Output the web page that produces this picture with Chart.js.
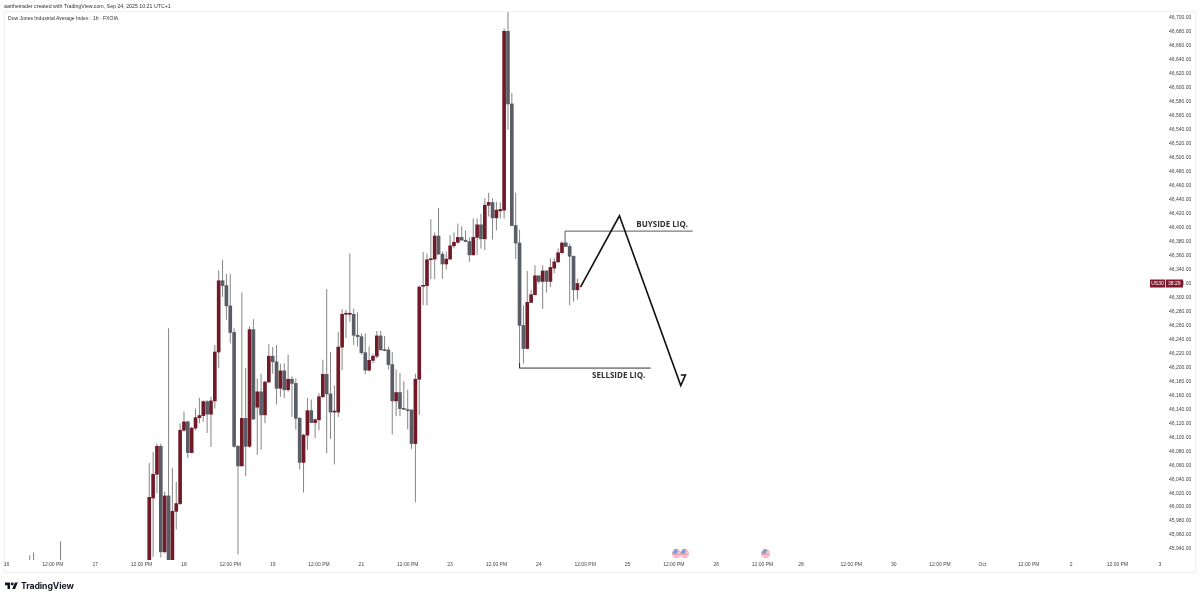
<!DOCTYPE html>
<html>
<head>
<meta charset="utf-8">
<title>Dow Jones Industrial Average Index</title>
<script src="https://cdn.jsdelivr.net/npm/chart.js@4"></script>
<style>
  html, body { margin: 0; padding: 0; background: #fff; }
  #wrap { position: relative; width: 1200px; height: 598px; overflow: hidden; font-family: "Liberation Sans", sans-serif; }
  #chart { position: absolute; left: 0; top: 0; }
  #frame { position: absolute; left: 4px; top: 11px; width: 1190px; height: 560px; border: 1px solid #f1f1f1; }
  .small { position: absolute; line-height: 8px; color: #333; white-space: nowrap; }
  #author { left: 4px; top: 2px; font-size: 5.25px; }
  #symbol { left: 8px; top: 14px; font-size: 5.05px; }
  #logo { position: absolute; left: 5px; top: 580px; height: 11px; display: flex; align-items: center; gap: 3px; }
  #logo span { font-family: Inter, sans-serif; font-weight: 700; font-size: 8.7px; letter-spacing: -0.1px; color: #131722; }
</style>
</head>
<body>
<div id="wrap">
  <div id="frame"></div>
  <canvas id="chart" width="1200" height="598"></canvas>
  <div id="author" class="small">aarthetrader created with TradingView.com, Sep 24, 2025 10:21 UTC+1</div>
  <div id="symbol" class="small">Dow Jones Industrial Average Index · 1h · FXOIA</div>
  <div id="logo">
    <svg width="13" height="9" viewBox="0 0 36 24"><path fill="#131722" d="M14 22H7V11H0V4h14v18zM28 22h-8l7.5-18h8L28 22z"/><circle fill="#131722" cx="20" cy="8" r="4"/></svg>
    <span>TradingView</span>
  </div>
</div>
<script>
const hours = [6, 7, 14,
  37, 38, 39, 40, 41, 42, 43, 44, 45, 46, 47, 48, 49, 50, 51, 52, 53, 54, 55, 56,
  57, 58, 59, 60, 61, 62, 63, 64, 65, 66, 67, 68, 69, 70, 71, 72, 73, 74, 75, 76,
  77, 78, 79, 80, 81, 82, 83, 84, 85, 86, 87, 88, 89, 90, 91, 92, 93, 94, 95, 96,
  97, 98, 99, 100, 101, 102, 103, 104, 105, 106, 107, 108, 109, 110, 111, 112, 113, 114, 115, 116,
  117, 118, 119, 120, 121, 122, 123, 124, 125, 126, 127, 128, 129, 130, 131, 132, 133, 134, 135, 136,
  137, 138, 139, 140, 141, 142, 143, 144, 145, 146, 147, 148];

const opens = [45905, 45900, 45910,
  45915, 46013, 46047, 46087, 45936, 46016, 45915, 45994, 46005, 46110, 46122, 46078, 46113, 46128, 46131, 46151,
  46133, 46152, 46222, 46324, 46317, 46288, 46250, 46087, 46059, 46127, 46087, 46254, 46143, 46165, 46132, 46179,
  46216, 46208, 46170, 46195, 46168, 46183, 46177, 46127, 46064, 46103, 46138, 46121, 46125, 46158, 46190, 46162,
  46136, 46136, 46229, 46276, 46276, 46276, 46246, 46244, 46221, 46196, 46210, 46216, 46245, 46225, 46225, 46204,
  46152, 46164, 46141, 46139, 46139, 46091, 46183, 46316, 46317, 46354, 46355, 46388, 46362, 46348, 46355, 46374,
  46379, 46386, 46382, 46380, 46361, 46386, 46404, 46384, 46432, 46436, 46414, 46424, 46425, 46681, 46577, 46403,
  46378, 46260, 46227, 46293, 46304, 46331, 46323, 46338, 46323, 46342, 46351, 46364, 46378, 46373, 46359, 46311];

const closes = [45900, 45905, 45905,
  46014, 46047, 46087, 45936, 46016, 45915, 45994, 46005, 46110, 46122, 46078, 46113, 46128, 46131, 46151, 46133,
  46152, 46222, 46324, 46317, 46288, 46250, 46087, 46059, 46127, 46087, 46254, 46126, 46165, 46132, 46179, 46216,
  46208, 46170, 46195, 46168, 46183, 46177, 46127, 46064, 46103, 46138, 46121, 46125, 46158, 46190, 46162, 46136,
  46137, 46229, 46276, 46277, 46276, 46246, 46244, 46221, 46196, 46210, 46216, 46245, 46225, 46224, 46204, 46152,
  46164, 46141, 46140, 46138, 46091, 46183, 46315, 46317, 46354, 46355, 46388, 46362, 46348, 46355, 46374, 46379,
  46386, 46382, 46380, 46361, 46386, 46404, 46384, 46432, 46436, 46414, 46425, 46426, 46681, 46577, 46403, 46378,
  46260, 46227, 46293, 46304, 46331, 46323, 46338, 46323, 46343, 46351, 46364, 46378, 46373, 46359, 46311, 46320];

const highs = [45931, 45935, 45951,
  46063, 46079, 46091, 46091, 46022, 46256, 46056, 46036, 46120, 46137, 46124, 46115, 46141, 46156, 46153, 46153,
  46158, 46232, 46339, 46354, 46334, 46334, 46256, 46089, 46307, 46199, 46259, 46269, 46184, 46191, 46181, 46233,
  46229, 46232, 46205, 46206, 46218, 46187, 46184, 46129, 46105, 46156, 46154, 46127, 46163, 46211, 46312, 46222,
  46174, 46251, 46283, 46282, 46363, 46284, 46279, 46249, 46249, 46230, 46220, 46252, 46252, 46245, 46230, 46222,
  46197, 46192, 46180, 46168, 46140, 46191, 46317, 46365, 46363, 46412, 46393, 46428, 46366, 46366, 46389, 46393,
  46406, 46402, 46396, 46386, 46413, 46413, 46420, 46442, 46450, 46442, 46437, 46436, 46685, 46712, 46593, 46450,
  46397, 46289, 46338, 46311, 46346, 46332, 46346, 46339, 46356, 46356, 46370, 46380, 46380, 46377, 46360, 46327];

const lows = [45890, 45892, 45895,
  45905, 45929, 46020, 45928, 45934, 45905, 45905, 45968, 46003, 46108, 46070, 46077, 46110, 46120, 46122, 46106,
  46086, 46141, 46199, 46301, 46268, 46234, 46085, 45932, 46058, 46044, 46085, 46125, 46075, 46082, 46120, 46178,
  46191, 46147, 46158, 46156, 46165, 46129, 46111, 46054, 46021, 46082, 46120, 46099, 46110, 46156, 46077, 46098,
  46061, 46129, 46196, 46242, 46265, 46232, 46230, 46218, 46190, 46194, 46206, 46213, 46224, 46223, 46197, 46104,
  46130, 46130, 46139, 46111, 46083, 46007, 46132, 46289, 46289, 46326, 46326, 46361, 46327, 46340, 46354, 46370,
  46377, 46382, 46379, 46351, 46360, 46361, 46370, 46368, 46416, 46383, 46396, 46413, 46413, 46540, 46402, 46355,
  46206, 46205, 46226, 46292, 46303, 46320, 46284, 46307, 46315, 46335, 46349, 46363, 46372, 46289, 46294, 46297];

const tickHours = [0, 12, 23, 35, 46, 58, 69, 81, 92, 104, 115, 127, 138, 150, 161, 173, 184, 196, 206, 219, 230, 242, 253, 265, 276, 288, 299];
const tickNames = ['16', '12:00 PM', '17', '12:00 PM', '18', '12:00 PM', '19', '12:00 PM', '21', '12:00 PM', '23', '12:00 PM', '24', '12:00 PM',
  '25', '12:00 PM', '26', '12:00 PM', '28', '12:00 PM', '30', '12:00 PM', 'Oct', '12:00 PM', '2', '12:00 PM', '3'];

const projectionHours = [148.8, 158.9, 174.8, 176, 174.8];
const projectionPrices = [46315, 46417, 46174, 46189, 46189];
const buysideHours = [144.8, 144.8, 177.9];
const buysidePrices = [46378, 46395, 46395];
const sellsideHours = [133, 133, 167];
const sellsidePrices = [46206, 46199, 46199];

const liqTexts = ['BUYSIDE LIQ.', 'SELLSIDE LIQ.'];
const liqHours = [170, 158.7];
const liqPrices = [46404, 46188];

const flagHours = [173.7, 175.8, 196.8];
const flagPrices = [45933, 45933, 45933];

const lastPrice = 46320;
const lastSymbol = 'US30';
const lastCountdown = '38:29';

const UP = '#701a28';
const DOWN = '#5a5d66';
const WICK = '#858585';
const INK = '#111';

function zip(xs, ys) {
  return xs.map((x, i) => ({ x: x, y: ys[i] }));
}

function fmtPrice(v) {
  return v.toLocaleString('en-US', { minimumFractionDigits: 2, maximumFractionDigits: 2 });
}

function makeFlag() {
  const c = document.createElement('canvas');
  c.width = 9;
  c.height = 9;
  const g = c.getContext('2d');
  g.beginPath();
  g.arc(4.5, 4.5, 4.4, 0, Math.PI * 2);
  g.clip();
  g.fillStyle = '#f4a3b0';
  g.fillRect(0, 0, 9, 9);
  g.fillStyle = '#fbdde2';
  g.fillRect(0, 3, 9, 1);
  g.fillRect(0, 6, 9, 1);
  g.fillStyle = '#7f9ad2';
  g.fillRect(0, 0, 5, 4);
  return c;
}

const overlay = {
  id: 'overlay',
  afterDraw(chart) {
    const g = chart.ctx;
    const x = chart.scales.x;
    const y = chart.scales.y;
    g.save();
    g.fillStyle = '#2f2f2f';
    g.font = 'bold 8px "Open Sans", sans-serif';
    g.textAlign = 'center';
    g.textBaseline = 'middle';
    liqTexts.forEach((t, i) => {
      g.fillText(t, x.getPixelForValue(liqHours[i]), y.getPixelForValue(liqPrices[i]));
    });
    // countdown tag sits on top of the price axis
    const py = y.getPixelForValue(lastPrice);
    g.fillStyle = '#7e1a2c';
    g.fillRect(1150, py - 4, 15, 8);
    g.fillRect(1165.7, py - 4, 17.3, 8);
    g.fillStyle = '#fff';
    g.font = '5px "Liberation Sans", sans-serif';
    g.fillText(lastSymbol, 1157.5, py);
    g.fillText(lastCountdown, 1174.3, py);
    g.restore();
  }
};

new Chart(document.getElementById('chart'), {
  type: 'bar',
  plugins: [overlay],
  data: {
    datasets: [
      {
        label: 'wick',
        data: hours.map((h, i) => ({ x: h, y: [lows[i], highs[i]] })),
        backgroundColor: WICK,
        barThickness: 1,
        grouped: false,
        inflateAmount: 0,
        order: 5
      },
      {
        label: 'body',
        data: hours.map((h, i) => ({ x: h, y: [opens[i], closes[i]] })),
        backgroundColor: hours.map((h, i) => closes[i] >= opens[i] ? UP : DOWN),
        barThickness: 3,
        grouped: false,
        minBarLength: 1,
        order: 4
      },
      {
        type: 'line',
        label: 'buyside',
        data: zip(buysideHours, buysidePrices),
        borderColor: '#5a5a5a',
        borderWidth: 1,
        pointRadius: 0,
        order: 3
      },
      {
        type: 'line',
        label: 'sellside',
        data: zip(sellsideHours, sellsidePrices),
        borderColor: '#333',
        borderWidth: 1,
        pointRadius: 0,
        order: 3
      },
      {
        type: 'line',
        label: 'projection',
        data: zip(projectionHours, projectionPrices),
        borderColor: INK,
        borderWidth: 1.6,
        pointRadius: 0,
        order: 2
      },
      {
        type: 'line',
        label: 'events',
        data: zip(flagHours, flagPrices),
        showLine: false,
        pointStyle: makeFlag(),
        order: 1
      }
    ]
  },
  options: {
    responsive: false,
    animation: false,
    layout: { padding: { left: 4, top: 12, right: 5, bottom: 26 } },
    plugins: { legend: { display: false }, tooltip: { enabled: false } },
    scales: {
      x: {
        type: 'linear',
        offset: false,
        min: -0.4,
        max: 300.6,
        grid: { display: false, offset: false, drawTicks: false },
        border: { display: false },
        afterBuildTicks(s) {
          s.ticks = tickHours.map(h => ({ value: h }));
        },
        afterFit(s) { s.height = 12; },
        ticks: {
          autoSkip: false,
          maxRotation: 0,
          padding: 2,
          color: '#444',
          font: { family: 'Liberation Sans', size: 5 },
          callback(v) { return tickNames[tickHours.indexOf(v)]; }
        }
      },
      y: {
        position: 'right',
        min: 45924.3,
        max: 46708.6,
        grid: { display: false, drawTicks: false },
        border: { display: false },
        afterBuildTicks(s) {
          s.ticks = s.ticks.filter(t => t.value >= s.min && t.value <= s.max);
        },
        afterFit(s) { s.width = 29; },
        ticks: {
          stepSize: 20,
          autoSkip: false,
          includeBounds: false,
          padding: 3,
          color: '#444',
          font: { family: 'Liberation Sans', size: 5 },
          callback: fmtPrice
        }
      }
    }
  }
});
</script>
</body>
</html>
